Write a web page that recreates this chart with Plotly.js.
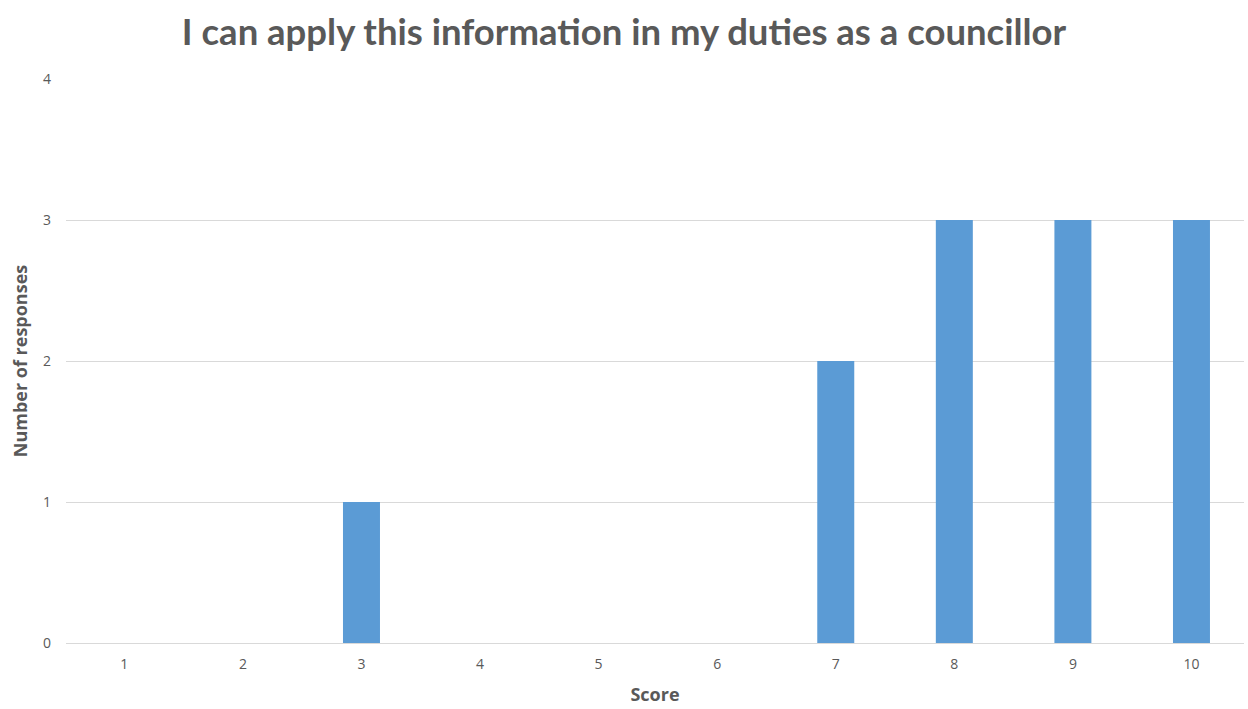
<!DOCTYPE html>
<html>
<head>
<meta charset="utf-8">
<script src="https://cdn.plot.ly/plotly-3.0.1.min.js"></script>
<style>html,body{margin:0;padding:0;background:#fff;}#chart{width:1248px;height:709px;}</style>
</head>
<body>
<div id="chart"></div>
<script>
const scores = ['1','2','3','4','5','6','7','8','9','10'];
const responses = [0, 0, 1, 0, 0, 0, 2, 3, 3, 3];
const yTicks = [0, 1, 2, 3, 4];
const chartTitle = 'I can apply this information in my duties as a councillor';
const xTitle = 'Score';
const yTitle = 'Number of responses';

const trace = {
  type: 'bar',
  x: scores,
  y: responses,
  marker: {color: '#5B9BD5', line: {width: 0}},
  hoverinfo: 'x+y'
};

const layout = {
  width: 1248, height: 709,
  paper_bgcolor: '#ffffff', plot_bgcolor: '#ffffff',
  margin: {l: 66, r: 4, t: 79, b: 66},
  bargap: 0.688,
  showlegend: false,
  font: {family: 'Open Sans, sans-serif', color: '#595959'},
  title: {
    text: chartTitle,
    font: {family: 'Lato, sans-serif', size: 36.5, color: '#595959', weight: 'bold'},
    x: 0.5, xanchor: 'center', y: 0.955, yanchor: 'middle'
  },
  xaxis: {
    type: 'category',
    range: [-0.492, 9.443],
    title: {text: xTitle, font: {size: 18, color: '#595959', weight: 'bold'}, standoff: 16},
    tickfont: {size: 14, color: '#595959'},
    showgrid: false, zeroline: false, showline: false,
    ticks: '', ticklabelstandoff: 11
  },
  yaxis: {
    range: [0, 4],
    tickvals: yTicks,
    title: {text: yTitle, font: {size: 18, color: '#595959', weight: 'bold'}, standoff: 10},
    tickfont: {size: 14, color: '#595959'},
    showgrid: true, gridcolor: '#D9D9D9', gridwidth: 1,
    zeroline: true, zerolinecolor: '#D9D9D9', zerolinewidth: 1,
    showline: false, ticks: '', ticklabelstandoff: 14
  }
};

Plotly.newPlot('chart', [trace], layout, {displayModeBar: false, staticPlot: true});
</script>
</body>
</html>
